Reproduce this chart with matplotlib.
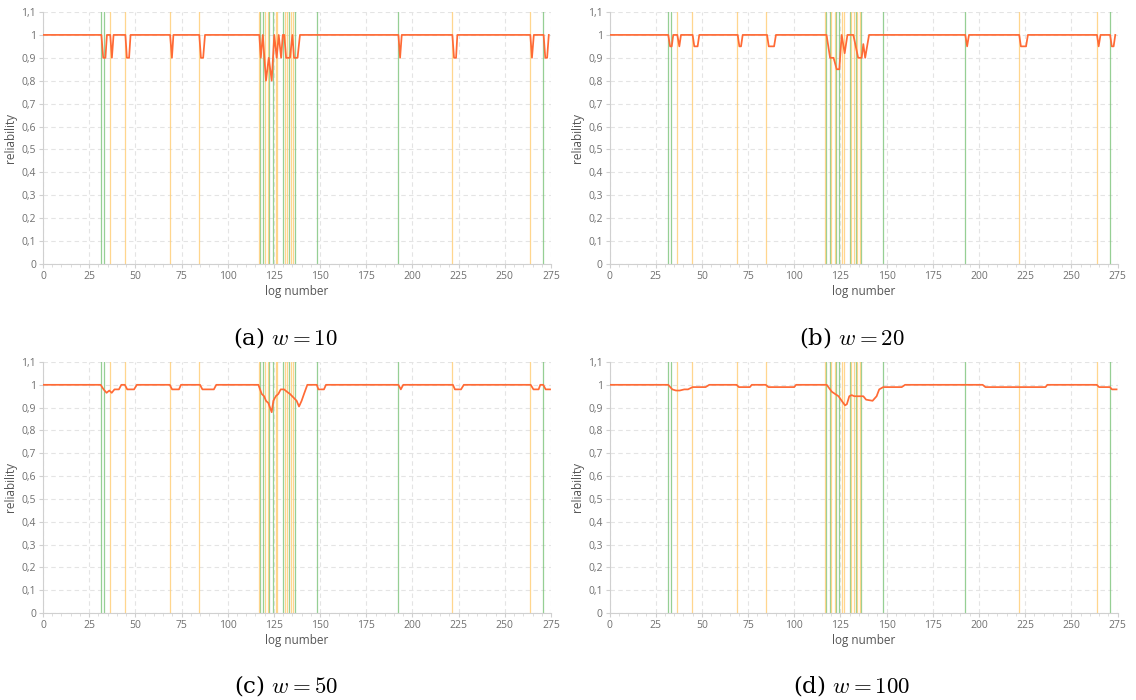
import numpy as np
import matplotlib
matplotlib.use("Agg")
import matplotlib.pyplot as plt
from matplotlib.ticker import MultipleLocator, FuncFormatter

# event markers (log numbers)
green_events = [31.6, 33.2, 117.4, 119.2, 122.5, 124.3, 130.1, 133.3, 136.4, 148.2, 192.4, 270.9]
yellow_events = [36.4, 44.6, 68.8, 84.6, 116.9, 120.0, 121.9, 126.1, 126.8, 131.0, 132.2, 134.0, 135.5,
                 221.6, 263.8]

# reliability curves, w = 10
rel10_x = [0, 31.6, 32.6, 33.8, 34.6, 36.4, 37.3, 38.2, 44.6, 45.4, 46.6, 47.4, 68.8, 69.8, 70.6,
           84.6, 85.5, 86.7, 87.7,
           117.1, 117.9, 119.0, 120.7, 122.2, 123.8, 125.2, 126.5, 127.6, 128.9, 129.8, 130.6,
           131.6, 133.7, 135.0, 135.9, 137.8, 139.1,
           192.4, 193.3, 194.2, 221.6, 222.5, 223.6, 224.3, 263.8, 264.7, 265.7,
           271.0, 271.9, 272.9, 273.8]
rel10_y = [1, 1, 0.9, 0.9, 1, 1, 0.9, 1, 1, 0.9, 0.9, 1, 1, 0.9, 1,
           1, 0.9, 0.9, 1,
           1, 0.9, 1, 0.8, 0.9, 0.8, 1, 0.9, 1, 0.9, 1, 1,
           0.9, 0.9, 1, 0.9, 0.9, 1,
           1, 0.9, 1, 1, 0.9, 0.9, 1, 1, 0.9, 1,
           1, 0.9, 0.9, 1]

# w = 20
rel20_x = [0, 31.8, 32.8, 33.7, 34.5, 36.7, 37.8, 38.7, 45.0, 45.9, 47.7, 48.6, 69.4, 70.3, 71.2, 72.1,
           85.3, 86.2, 89.1, 90.1,
           117.5, 119.4, 121.3, 123.0, 124.4, 125.7, 127.3, 128.8, 132.0, 134.6, 136.5, 137.4, 138.4, 140.5,
           192.6, 193.6, 194.6, 221.8, 222.7, 225.5, 226.5, 263.9, 264.8, 265.8,
           271.0, 271.9, 272.9, 273.8]
rel20_y = [1, 1, 0.95, 0.95, 1, 1, 0.95, 1, 1, 0.95, 0.95, 1, 1, 0.95, 0.95, 1,
           1, 0.95, 0.95, 1,
           1, 0.9, 0.9, 0.85, 0.85, 1, 0.92, 1, 1, 0.9, 0.9, 0.96, 0.9, 1,
           1, 0.95, 1, 1, 0.95, 0.95, 1, 1, 0.95, 1,
           1, 0.95, 0.95, 1]

# w = 50
rel50_x = [0, 31.2, 32.8, 34.4, 35.9, 37.2, 38.7, 41.1, 42.4, 44.3, 45.6, 49.3, 50.8,
           68.6, 69.9, 73.6, 74.7, 85.0, 86.3, 92.5, 93.8,
           116.6, 118.4, 119.7, 120.7, 122.0, 123.8, 124.7, 126.0, 127.4, 128.7, 130.5, 132.0,
           133.7, 135.5, 137.3, 138.6, 140.0, 141.3, 143.1,
           148.2, 149.1, 152.1, 153.2, 192.4, 193.7, 195.0, 221.9, 223.0, 226.3, 227.8,
           264.0, 265.5, 268.3, 269.2, 270.8, 272.1, 274.5]
rel50_y = [1, 1, 0.98, 0.965, 0.975, 0.965, 0.98, 0.98, 1, 1, 0.98, 0.98, 1,
           1, 0.98, 0.98, 1, 1, 0.98, 0.98, 1,
           1, 0.96, 0.95, 0.93, 0.92, 0.88, 0.93, 0.95, 0.96, 0.98, 0.98, 0.97,
           0.96, 0.945, 0.93, 0.905, 0.93, 0.96, 1,
           1, 0.98, 0.98, 1, 1, 0.98, 1, 1, 0.98, 0.98, 1,
           1, 0.98, 0.98, 1, 1, 0.98, 0.98]

# w = 100
rel100_x = [0, 31.8, 34.0, 36.0, 38.0, 40.5, 42.5, 45.0, 46.5, 52.0, 54.0, 68.8, 70.0, 76.0, 77.0,
            84.6, 86.0, 100.0, 101.0,
            117.6, 120.3, 122.1, 124.0, 125.7, 127.5, 128.5, 129.8, 131.1, 132.5, 137.4, 138.9, 142.4,
            144.6, 146.0, 148.2, 158.2, 160.0,
            202.0, 203.5, 236.0, 237.0, 263.8, 265.0, 270.9, 272.0, 274.5]
rel100_y = [1, 1, 0.98, 0.975, 0.975, 0.98, 0.98, 0.99, 0.99, 0.99, 1, 1, 0.99, 0.99, 1,
            1, 0.99, 0.99, 1,
            1, 0.97, 0.96, 0.95, 0.93, 0.91, 0.915, 0.95, 0.955, 0.95, 0.95, 0.935, 0.93,
            0.95, 0.98, 0.99, 0.99, 1,
            1, 0.99, 0.99, 1, 1, 0.99, 0.99, 0.98, 0.98]

panels = [
    ("(a) $w = 10$", rel10_x, rel10_y),
    ("(b) $w = 20$", rel20_x, rel20_y),
    ("(c) $w = 50$", rel50_x, rel50_y),
    ("(d) $w = 100$", rel100_x, rel100_y),
]

plt.rcParams["font.family"] = ["Open Sans", "DejaVu Sans"]
plt.rcParams["mathtext.fontset"] = "cm"

fig = plt.figure(figsize=(11.36, 7.0), dpi=100)

# axes boxes in pixels: left, top, right, bottom
boxes = [(43, 12, 551, 264), (609.5, 12, 1117.5, 264),
         (43, 362, 551, 613), (609.5, 362, 1117.5, 613)]
W, H = 1136.0, 700.0

tick_col = "#707070"
grid_col = "#e4e4e4"

for (caption, xs, ys), (l, t, r, b) in zip(panels, boxes):
    ax = fig.add_axes([l / W, 1 - b / H, (r - l) / W, (b - t) / H])

    for xe in green_events:
        ax.axvline(xe, color="#7cc47a", lw=0.9, alpha=0.8, zorder=2)
    for xe in yellow_events:
        ax.axvline(xe, color="#ffcf7a", lw=0.9, alpha=0.85, zorder=2)

    ax.plot(xs, ys, color="#ff6a35", lw=1.25, zorder=3)

    ax.set_xlim(0, 275)
    ax.set_ylim(0, 1.1)
    ax.xaxis.set_major_locator(MultipleLocator(25))
    ax.xaxis.set_minor_locator(MultipleLocator(5))
    ax.yaxis.set_major_locator(MultipleLocator(0.1))
    ax.yaxis.set_major_formatter(FuncFormatter(lambda v, p: ("%g" % round(v, 1)).replace(".", ",")))

    ax.grid(True, which="major", color=grid_col, ls=(0, (4, 3)), lw=0.8, zorder=0)
    for s in ["top", "right"]:
        ax.spines[s].set_visible(False)
    for s in ["left", "bottom"]:
        ax.spines[s].set_color("#d0d0d0")
        ax.spines[s].set_linewidth(0.8)
    ax.tick_params(axis="both", which="major", labelsize=7.5, colors="#d0d0d0",
                   labelcolor=tick_col, length=3, width=0.8, pad=2)
    ax.tick_params(axis="x", which="minor", length=2, width=0.6, colors="#d8d8d8")

    ax.set_xlabel("log number", fontsize=8.5, color="#555555", labelpad=2)
    ax.set_ylabel("reliability", fontsize=8.5, color="#555555", labelpad=3)

    cx = (l + r) / 2 / W - 0.01
    cy = 1 - (b + 73) / H
    fig.text(cx, cy, caption, ha="center", va="center", fontsize=16.5,
             family=["DejaVu Serif"])

fig.savefig("out.png", dpi=100)
plt.close(fig)
